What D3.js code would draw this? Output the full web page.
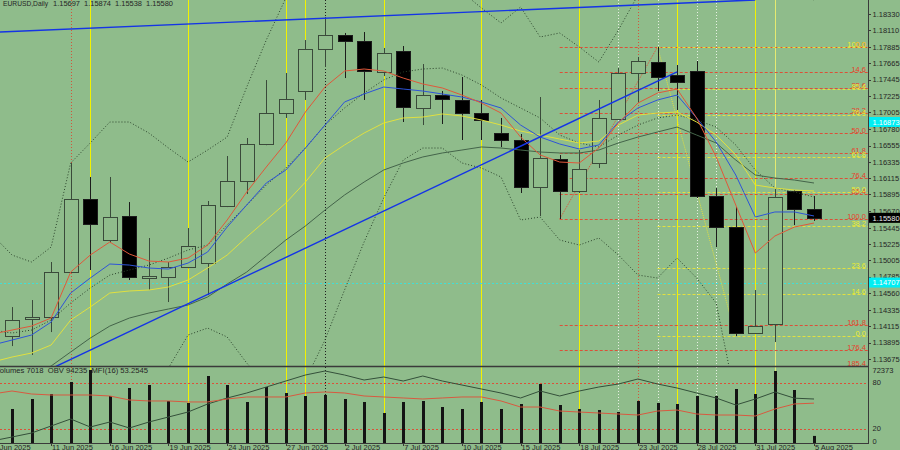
<!DOCTYPE html>
<html><head><meta charset="utf-8">
<script src="https://cdn.jsdelivr.net/npm/d3@7/dist/d3.min.js"></script>
<style>
html,body{margin:0;padding:0;background:#8fbc8b;}
svg{display:block;font-family:"Liberation Sans",Arial,sans-serif;}
</style>
</head><body>
<svg id="chart" width="900" height="450"></svg>
<script>
// ---------------- DATA ----------------
const symbolTitle = "EURUSD,Daily";
const dates = ["2025-06-06","2025-06-09","2025-06-10","2025-06-11","2025-06-12","2025-06-13","2025-06-16","2025-06-17","2025-06-18","2025-06-19","2025-06-20","2025-06-23","2025-06-24","2025-06-25","2025-06-26","2025-06-27","2025-06-30","2025-07-01","2025-07-02","2025-07-03","2025-07-04","2025-07-07","2025-07-08","2025-07-09","2025-07-10","2025-07-11","2025-07-14","2025-07-15","2025-07-16","2025-07-17","2025-07-18","2025-07-21","2025-07-22","2025-07-23","2025-07-24","2025-07-25","2025-07-28","2025-07-29","2025-07-30","2025-07-31","2025-08-01","2025-08-04","2025-08-05"];
const openP  = [1.14449,1.13985,1.14214,1.14241,1.14849,1.15834,1.15280,1.15604,1.14775,1.14781,1.14916,1.14970,1.15739,1.16077,1.16576,1.16994,1.17291,1.17858,1.18047,1.17966,1.17547,1.17831,1.17062,1.17237,1.17170,1.16994,1.16724,1.16630,1.15996,1.16373,1.15942,1.16319,1.16913,1.17534,1.17682,1.17507,1.17561,1.15874,1.15456,1.14025,1.14147,1.15942,1.15697];
const highP  = [1.14560,1.14376,1.14471,1.14984,1.16319,1.16131,1.16131,1.15793,1.15308,1.14984,1.15442,1.15807,1.16414,1.16657,1.17439,1.17534,1.17979,1.18290,1.18074,1.18087,1.17871,1.17898,1.17655,1.17291,1.17480,1.17170,1.16927,1.16711,1.17210,1.16427,1.16495,1.17170,1.17601,1.17750,1.17885,1.17642,1.17696,1.15982,1.15726,1.14606,1.15969,1.15955,1.15874];
const lowP   = [1.13730,1.13850,1.13730,1.14039,1.14835,1.14876,1.15240,1.14741,1.14606,1.14444,1.14900,1.14538,1.15725,1.15901,1.16560,1.16927,1.17170,1.17615,1.17466,1.17170,1.17493,1.16873,1.16832,1.16846,1.16630,1.16630,1.16535,1.15915,1.15604,1.15564,1.15915,1.16252,1.16900,1.17129,1.17291,1.17035,1.15847,1.15186,1.13985,1.14012,1.13904,1.15483,1.15538];
const closeP = [1.13960,1.14201,1.14241,1.14849,1.15834,1.15496,1.15591,1.14781,1.14790,1.14916,1.15199,1.15753,1.16077,1.16576,1.16994,1.17183,1.17858,1.18047,1.17966,1.17561,1.17804,1.17075,1.17237,1.17183,1.16994,1.16900,1.16630,1.15996,1.16387,1.15942,1.16239,1.16927,1.17534,1.17696,1.17480,1.17412,1.15874,1.15456,1.14025,1.14120,1.15861,1.15699,1.15580];

const maFast = [1.14012,1.14066,1.14120,1.14228,1.14849,1.15078,1.15254,1.15092,1.14997,1.14984,1.15038,1.15213,1.15551,1.15928,1.16266,1.16590,1.17008,1.17345,1.17561,1.17588,1.17561,1.17466,1.17386,1.17332,1.17237,1.17129,1.16994,1.16670,1.16428,1.16333,1.16320,1.16522,1.16859,1.17129,1.17264,1.17318,1.16927,1.16401,1.15753,1.15105,1.15335,1.15456,1.15510];
const maMid  = [1.13864,1.13931,1.13999,1.14174,1.14566,1.14768,1.14957,1.14943,1.14903,1.14889,1.14970,1.15119,1.15456,1.15753,1.16050,1.16225,1.16522,1.16832,1.17143,1.17251,1.17345,1.17318,1.17291,1.17251,1.17210,1.17143,1.17062,1.16832,1.16670,1.16576,1.16509,1.16563,1.16873,1.17062,1.17170,1.17237,1.16927,1.16603,1.16158,1.15591,1.15659,1.15659,1.15605];
const maSlow = [1.13635,1.13702,1.13756,1.13864,1.14201,1.14377,1.14566,1.14593,1.14606,1.14647,1.14741,1.14903,1.15078,1.15321,1.15551,1.15780,1.16063,1.16387,1.16563,1.16724,1.16859,1.16927,1.16940,1.16981,1.16954,1.16900,1.16832,1.16751,1.16697,1.16643,1.16590,1.16616,1.16832,1.16967,1.16994,1.17008,1.16873,1.16697,1.16428,1.16023,1.15982,1.15955,1.15942];
const maLong = [1.13189,1.13324,1.13459,1.13581,1.13770,1.13958,1.14120,1.14228,1.14296,1.14350,1.14404,1.14512,1.14687,1.14849,1.15065,1.15281,1.15470,1.15685,1.15888,1.16063,1.16225,1.16320,1.16401,1.16455,1.16495,1.16536,1.16522,1.16495,1.16468,1.16455,1.16455,1.16495,1.16590,1.16670,1.16738,1.16805,1.16697,1.16590,1.16360,1.16158,1.16117,1.16090,1.16050];
const bbUpper  = [1.15348,1.15078,1.14984,1.15186,1.16320,1.16590,1.16873,1.16873,1.16724,1.16522,1.16333,1.16495,1.16670,1.17345,1.17979,1.18546,1.18680,1.18820,1.18900,1.18950,1.18960,1.18920,1.18850,1.18700,1.18627,1.18411,1.18209,1.18425,1.18020,1.18074,1.17885,1.17682,1.18114,1.18586,1.18700,1.18800,1.18880,1.18960,1.19050,1.19000,1.18850,1.18680,1.18519];
const bbMiddle = [1.14066,1.14026,1.14066,1.14201,1.14431,1.14633,1.14808,1.14876,1.14943,1.15038,1.15146,1.15213,1.15483,1.15753,1.16023,1.16252,1.16522,1.16832,1.17062,1.17264,1.17440,1.17548,1.17588,1.17601,1.17507,1.17372,1.17197,1.17062,1.16927,1.16697,1.16590,1.16536,1.16697,1.16832,1.16927,1.16967,1.16900,1.16805,1.16563,1.16225,1.15982,1.15928,1.15861];
const bbLower  = [1.12785,1.12973,1.13149,1.13216,1.12542,1.12677,1.12744,1.12879,1.13162,1.13554,1.13999,1.14093,1.13972,1.13621,1.13324,1.13122,1.13392,1.13931,1.14606,1.15254,1.15847,1.16360,1.16522,1.16522,1.16320,1.16252,1.16131,1.15551,1.15591,1.15281,1.15213,1.15308,1.15078,1.14808,1.14768,1.15038,1.14768,1.14431,1.13122,1.12717,1.12852,1.13054,1.13203];

const volumes = [52000,33710,43620,48580,60480,72373,46600,54530,57500,41640,39660,66420,57500,40650,55520,49570,46600,47590,43620,40650,29740,40650,41640,35690,33710,40650,33710,38660,58490,37670,33710,32720,30730,41640,39660,38660,46600,46600,53540,48580,71380,52540,7018];
const obv = [-262000,-228800,-194800,-135300,-75800,-143800,-101300,-152300,-101300,-58800,-16300,51700,102700,145200,196200,247200,298200,332200,298200,255700,281200,247200,289700,247200,213200,179200,145200,102700,162200,119700,162200,196200,221700,264200,221700,187700,145200,102700,43200,94200,153700,101253,94235];
const mfi = [65.2,69.1,65.2,63.9,63.9,63.9,62.6,57.4,56.1,56.1,54.8,54.8,58.7,61.3,61.3,61.3,66.5,67.8,66.5,62.6,61.3,60.0,58.7,60.0,61.3,61.3,56.1,48.2,48.2,43.0,41.7,40.4,39.1,37.8,43.0,44.3,39.1,37.8,37.8,36.5,45.6,52.2,53.2545];
const mfiLevels = [80, 20];

const priceTicks = [1.18330,1.18110,1.17885,1.17665,1.17445,1.17225,1.17005,1.16780,1.16555,1.16335,1.16115,1.15895,1.15670,1.15445,1.15225,1.15005,1.14785,1.14560,1.14335,1.14115,1.13895,1.13675];
const cyanMarks = [1.16873, 1.14707];
const cyanLinePrices = [1.14707];

const fibLevelsRed = [0,14.6,23.6,38.2,50,61.8,76.4,85.4,100,161.8,176.4,185.4];
const fibRed = {start:"2025-07-17", p100:1.15564, end:"2025-07-24", p0:1.17885};
const fibLevelsYellow = [0,14.6,23.6,38.2,50,61.8,76.4,85.4,100];
const fibYellow = {start:"2025-07-24", p100:1.17885, end:"2025-07-30", p0:1.13985};

const trendLines = [
  {d1:"2025-06-11", p1:1.13545, d2:"2025-07-25", p2:1.17548},
  {d1:"2025-06-06", p1:1.18083, d2:"2025-07-31", p2:1.18520}
];
const vYellow = ["2025-06-13","2025-06-20","2025-06-27","2025-06-30","2025-07-04","2025-07-11","2025-07-18","2025-07-25","2025-07-31"];
const vYellowPale = ["2025-08-01"];
const vRedDot = ["2025-06-12","2025-07-23"];
const vBlackDot = ["2025-07-01"];
const vWhiteDot = ["2025-07-22","2025-07-24","2025-07-28","2025-07-29"];

// ---------------- CHART ----------------
const BG = "#8fbc8b";
const AX = "#262626";
const FONT = 7.5;
const svg = d3.select("#chart");
const defs = svg.append("defs");
defs.append("clipPath").attr("id","clipMain").append("rect").attr("x",0).attr("y",0).attr("width",868).attr("height",366);
defs.append("clipPath").attr("id","clipSub").append("rect").attr("x",0).attr("y",367).attr("width",868).attr("height",76);
svg.append("rect").attr("width",900).attr("height",450).attr("fill",BG);

const x = d3.scalePoint().domain(dates).range([-7.56, 814]);
const y = d3.scaleLinear().domain([1.13581, 1.18519]).range([366, 0]);
const yVol = d3.scaleLinear().domain([0, d3.max(volumes)]).range([443, 370]);
const yObv = d3.scaleLinear().domain([-279765, 366235]).range([443, 367]);
const yMfi = d3.scaleLinear().domain([0, 100]).range([444, 367.3]);
const px = d => Math.round(x(d)) + 0.5;

const gMain = svg.append("g").attr("clip-path","url(#clipMain)");
const gSub = svg.append("g").attr("clip-path","url(#clipSub)");

function vlines(list, color, dash) {
  [[gMain,0,366],[gSub,367,443]].forEach(([g,a,b]) => {
    g.selectAll(null).data(list).join("line")
      .attr("x1", px).attr("x2", px).attr("y1", a).attr("y2", b)
      .attr("stroke", color).attr("stroke-width", 1)
      .attr("stroke-dasharray", dash);
  });
}
vlines(vYellow, "#f2f200", null);
vlines(vYellowPale, "#e4ea70", null);
vlines(vWhiteDot, "#e8f0e4", "1,2");
vlines(vRedDot, "#d2553a", "1,2");
vlines(vBlackDot, "#1e1e1e", "1,2");

// cyan horizontal
gMain.selectAll(null).data(cyanLinePrices).join("line")
  .attr("x1",0).attr("x2",868).attr("y1",d=>Math.round(y(d))+0.5).attr("y2",d=>Math.round(y(d))+0.5)
  .attr("stroke","#3fe0d8").attr("stroke-dasharray","2,2");

// fibonacci lines
function fibLines(f, levels, color) {
  const g = gMain.append("g");
  const pr = L => f.p0 + (f.p100 - f.p0) * L / 100;
  g.selectAll(null).data(levels).join("line")
    .attr("x1", x(f.start)).attr("x2", 868)
    .attr("y1", L => Math.round(y(pr(L))) + 0.5).attr("y2", L => Math.round(y(pr(L))) + 0.5)
    .attr("stroke", color).attr("stroke-dasharray", "3,2").attr("stroke-width", 1);
  g.append("line").attr("x1", x(f.start)).attr("y1", y(f.p100)).attr("x2", x(f.end)).attr("y2", y(f.p0))
    .attr("stroke", color).attr("stroke-dasharray", "1,1").attr("stroke-width", 1);
}
fibLines(fibRed, fibLevelsRed, "#dc5038");
fibLines(fibYellow, fibLevelsYellow, "#e2e040");

// candles
const bars = dates.map((d,i)=>({d, o:openP[i], h:highP[i], l:lowP[i], c:closeP[i]}));
const gC = gMain.append("g");
gC.selectAll("line").data(bars).join("line")
  .attr("x1", d=>px(d.d)).attr("x2", d=>px(d.d))
  .attr("y1", d=>y(d.h)).attr("y2", d=>y(d.l))
  .attr("stroke", d=> d.c>=d.o ? "#3a4a3a" : "#1c1c1c");
gC.selectAll("rect").data(bars).join("rect")
  .attr("x", d=>Math.round(x(d.d)) - 7 + 0.5).attr("width", 14)
  .attr("y", d=>Math.round(y(Math.max(d.o,d.c))) + 0.5)
  .attr("height", d=>Math.max(1, Math.round(y(Math.min(d.o,d.c))) - Math.round(y(Math.max(d.o,d.c)))))
  .attr("fill", d=> d.c>=d.o ? BG : "#000")
  .attr("stroke", d=> d.c>=d.o ? "#3a4a3a" : "#1c1c1c");

// indicator lines
const lineGen = d3.line().x((v,i)=>x(dates[i])).y(v=>y(v));
function ind(arr, color, dash) {
  gMain.append("path").attr("d", lineGen(arr)).attr("fill","none")
    .attr("stroke", color).attr("stroke-width", 1).attr("stroke-dasharray", dash);
}
ind(bbUpper, "#2c442c", "1,2");
ind(bbLower, "#2c442c", "1,2");
ind(bbMiddle, "#2c442c", "1,2");
ind(maLong, "#44644a", null);
ind(maSlow, "#e0e040", null);
ind(maMid, "#2e54d8", null);
ind(maFast, "#e0583a", null);

// trend lines
gMain.selectAll(null).data(trendLines).join("line")
  .attr("x1", t=>x(t.d1)).attr("y1", t=>y(t.p1)).attr("x2", t=>x(t.d2)).attr("y2", t=>y(t.p2))
  .attr("stroke", "#1434e6").attr("stroke-width", 1.4);

// fib labels
function fibLabels(f, levels, color) {
  const pr = L => f.p0 + (f.p100 - f.p0) * L / 100;
  svg.append("g").selectAll(null).data(levels).join("text")
    .attr("x", 866).attr("y", L => Math.round(y(pr(L))) - 0.5)
    .attr("text-anchor","end").attr("font-size", FONT).attr("fill", color)
    .text(L => L.toFixed(1));
}
fibLabels(fibRed, fibLevelsRed, "#e8402c");
fibLabels(fibYellow, fibLevelsYellow, "#ecec30");

// ---------- sub window ----------
gSub.selectAll(null).data(mfiLevels).join("line")
  .attr("x1",0).attr("x2",868).attr("y1",d=>Math.round(yMfi(d))+0.5).attr("y2",d=>Math.round(yMfi(d))+0.5)
  .attr("stroke","#dc5038").attr("stroke-dasharray","2,2");
gSub.selectAll("rect.vol").data(volumes).join("rect").attr("class","vol")
  .attr("x",(v,i)=>Math.round(x(dates[i]))-1).attr("width",3)
  .attr("y",v=>yVol(v)).attr("height",v=>443-yVol(v)).attr("fill","#141414");
gSub.append("path").attr("d", d3.line().x((v,i)=>x(dates[i])).y(v=>yObv(v))(obv))
  .attr("fill","none").attr("stroke","#34503a").attr("stroke-width",1);
gSub.append("path").attr("d", d3.line().x((v,i)=>x(dates[i])).y(v=>yMfi(v))(mfi))
  .attr("fill","none").attr("stroke","#d85a40").attr("stroke-width",1);

// ---------- frame & axes ----------
svg.append("line").attr("x1",0).attr("x2",868).attr("y1",366.5).attr("y2",366.5).attr("stroke","#3a3a3a").attr("stroke-width",1.6);
svg.append("line").attr("x1",0).attr("x2",868).attr("y1",443.5).attr("y2",443.5).attr("stroke","#3a3a3a").attr("stroke-width",1);
svg.append("line").attr("x1",868.5).attr("x2",868.5).attr("y1",0).attr("y2",444).attr("stroke","#3a3a3a").attr("stroke-width",1);

const fmt5 = d3.format(".5f");
const gA = svg.append("g").attr("font-size", FONT).attr("fill", AX);
gA.selectAll("line").data(priceTicks).join("line")
  .attr("x1",868).attr("x2",871).attr("y1",d=>Math.round(y(d))+0.5).attr("y2",d=>Math.round(y(d))+0.5).attr("stroke","#3a3a3a");
gA.selectAll("text").data(priceTicks).join("text")
  .attr("x",872.5).attr("y",d=>y(d)+2.7).text(fmt5);

// cyan markers
const gCy = svg.append("g");
gCy.selectAll("rect").data(cyanMarks).join("rect")
  .attr("x",869).attr("width",31).attr("y",d=>y(d)-5).attr("height",10).attr("fill","#00eef4");
gCy.selectAll("text").data(cyanMarks).join("text")
  .attr("x",872.5).attr("y",d=>y(d)+2.7).attr("font-size",FONT).attr("fill","#ffffff").text(fmt5);

// current price marker
const last = closeP[closeP.length-1];
svg.append("rect").attr("x",869).attr("width",31).attr("y",y(last)-5).attr("height",10).attr("fill","#000");
svg.append("text").attr("x",872.5).attr("y",y(last)+2.7).attr("font-size",FONT).attr("fill","#e8e8e8").text(fmt5(last));

// date axis
const fmtDate = d3.timeFormat("%-d %b %Y");
const parse = d3.timeParse("%Y-%m-%d");
const tickDates = dates.filter((d,i)=>i%3===0);
svg.selectAll("line.dt").data(tickDates).join("line").attr("class","dt")
  .attr("x1",px).attr("x2",px).attr("y1",443).attr("y2",446).attr("stroke","#3a3a3a");
svg.selectAll("text.dt").data(tickDates).join("text").attr("class","dt")
  .attr("x",d=>x(d)+1).attr("y",450).attr("font-size",FONT).attr("fill",AX)
  .text(d=>fmtDate(parse(d)));

// sub window scale labels
const gS = svg.append("g").attr("font-size",FONT).attr("fill",AX);
gS.append("text").attr("x",872.5).attr("y",yVol(d3.max(volumes))+2.7).text(d3.max(volumes));
gS.selectAll(null).data(mfiLevels).join("text").attr("x",872.5).attr("y",d=>yMfi(d)+2.7).text(d=>d);
gS.append("text").attr("x",872.5).attr("y",Math.min(yMfi(0),441)+2.7).text("0");

// titles (the original pixel font is narrower, so fit each piece)
function fitText(txt, x0, y0, len) {
  svg.append("text").attr("x",x0).attr("y",y0).attr("font-size",FONT).attr("fill",AX)
    .style("white-space","pre")
    .attr("textLength",len).attr("lengthAdjust","spacingAndGlyphs").text(txt);
}
fitText(symbolTitle, 3, 6, 45);
[openP, highP, lowP, closeP].forEach((arr,k)=> fitText(fmt5(arr[arr.length-1]), 53 + k*31, 6, 27));
fitText(`Volumes ${volumes[volumes.length-1]}  OBV ${obv[obv.length-1]}  MFI(16) ${mfi[mfi.length-1].toFixed(4)}`, -5, 373, 153);
</script>
</body></html>
